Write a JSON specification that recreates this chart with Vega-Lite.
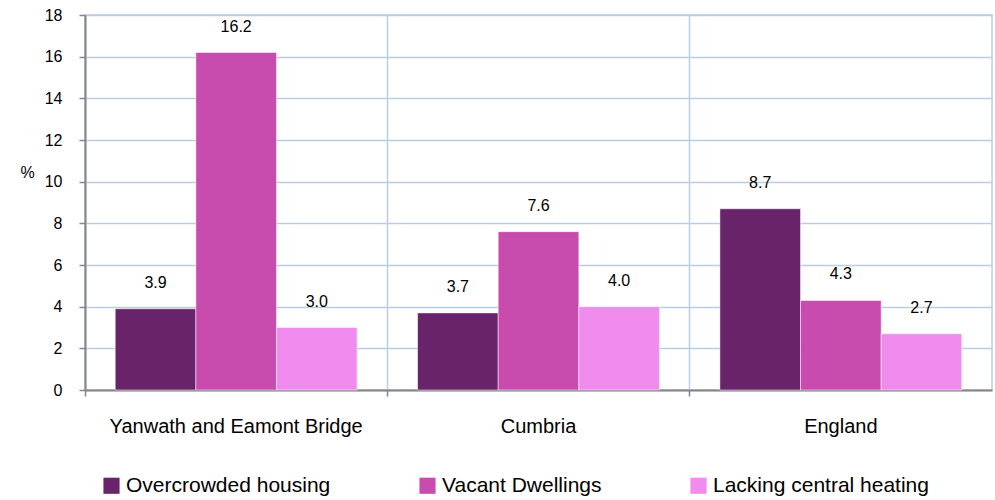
{
  "$schema": "https://vega.github.io/schema/vega-lite/v6.json",
  "width": 907,
  "height": 375,
  "autosize": "none",
  "padding": {"left": 85, "top": 15, "right": 3, "bottom": 110},
  "background": "white",
  "config": {
    "font": "Liberation Sans",
    "view": {"stroke": "#B9CDE5", "strokeWidth": 1.5}
  },
  "data": {
    "values": [
      {"area": "Yanwath and Eamont Bridge", "measure": "Overcrowded housing", "value": 3.9},
      {"area": "Yanwath and Eamont Bridge", "measure": "Vacant Dwellings", "value": 16.2},
      {"area": "Yanwath and Eamont Bridge", "measure": "Lacking central heating", "value": 3.0},
      {"area": "Cumbria", "measure": "Overcrowded housing", "value": 3.7},
      {"area": "Cumbria", "measure": "Vacant Dwellings", "value": 7.6},
      {"area": "Cumbria", "measure": "Lacking central heating", "value": 4.0},
      {"area": "England", "measure": "Overcrowded housing", "value": 8.7},
      {"area": "England", "measure": "Vacant Dwellings", "value": 4.3},
      {"area": "England", "measure": "Lacking central heating", "value": 2.7}
    ]
  },
  "encoding": {
    "x": {
      "field": "area",
      "type": "nominal",
      "sort": ["Yanwath and Eamont Bridge", "Cumbria", "England"],
      "scale": {"paddingInner": 0, "paddingOuter": 0},
      "axis": {
        "title": null,
        "bandPosition": 0,
        "grid": true,
        "gridColor": "#B9CDE5",
        "gridWidth": 1.5,
        "domainColor": "#868686",
        "domainWidth": 2,
        "tickColor": "#868686",
        "tickWidth": 1.5,
        "tickSize": 6,
        "labelOffset": 0,
        "labelAngle": 0,
        "labelLimit": 400,
        "labelFont": "Liberation Sans",
        "labelFontSize": 20,
        "labelColor": "#000000",
        "labelPadding": 20
      }
    },
    "xOffset": {
      "field": "measure",
      "type": "nominal",
      "sort": ["Overcrowded housing", "Vacant Dwellings", "Lacking central heating"],
      "scale": {"paddingInner": 0, "paddingOuter": 0.375}
    },
    "y": {
      "field": "value",
      "type": "quantitative",
      "scale": {"domain": [0, 18]},
      "axis": {
        "title": "%",
        "titleAngle": 0,
        "titleX": -58,
        "titleY": 157,
        "titleAlign": "center",
        "titleBaseline": "middle",
        "titleFont": "Liberation Sans",
        "titleFontSize": 16,
        "titleFontWeight": "normal",
        "titleColor": "#000000",
        "values": [0, 2, 4, 6, 8, 10, 12, 14, 16, 18],
        "grid": true,
        "gridColor": "#B9CDE5",
        "gridWidth": 1.5,
        "domainColor": "#868686",
        "domainWidth": 2,
        "tickColor": "#868686",
        "tickWidth": 1.5,
        "tickSize": 6,
        "labelFont": "Liberation Sans",
        "labelFontSize": 16,
        "labelColor": "#000000",
        "labelPadding": 17
      }
    }
  },
  "layer": [
    {
      "mark": {"type": "bar", "stroke": "white", "strokeWidth": 0.5},
      "encoding": {
        "color": {
          "field": "measure",
          "type": "nominal",
          "sort": ["Overcrowded housing", "Vacant Dwellings", "Lacking central heating"],
          "scale": {
            "domain": ["Overcrowded housing", "Vacant Dwellings", "Lacking central heating"],
            "range": ["#68236B", "#C84BAE", "#F08CEE"]
          },
          "legend": {
            "title": null,
            "orient": "none",
            "legendX": 16,
            "legendY": 460,
            "direction": "horizontal",
            "symbolType": "square",
            "symbolSize": 260,
            "symbolStrokeWidth": 0,
            "symbolOpacity": 1,
            "labelFont": "Liberation Sans",
            "labelFontSize": 21,
            "labelColor": "#000000",
            "labelOffset": 4,
            "labelLimit": 400,
            "columnPadding": 86
          }
        }
      }
    },
    {
      "mark": {"type": "text", "baseline": "bottom", "dy": -18, "fontSize": 16, "font": "Liberation Sans", "color": "#000000"},
      "encoding": {
        "text": {"field": "value", "type": "quantitative", "format": ".1f"}
      }
    }
  ]
}
